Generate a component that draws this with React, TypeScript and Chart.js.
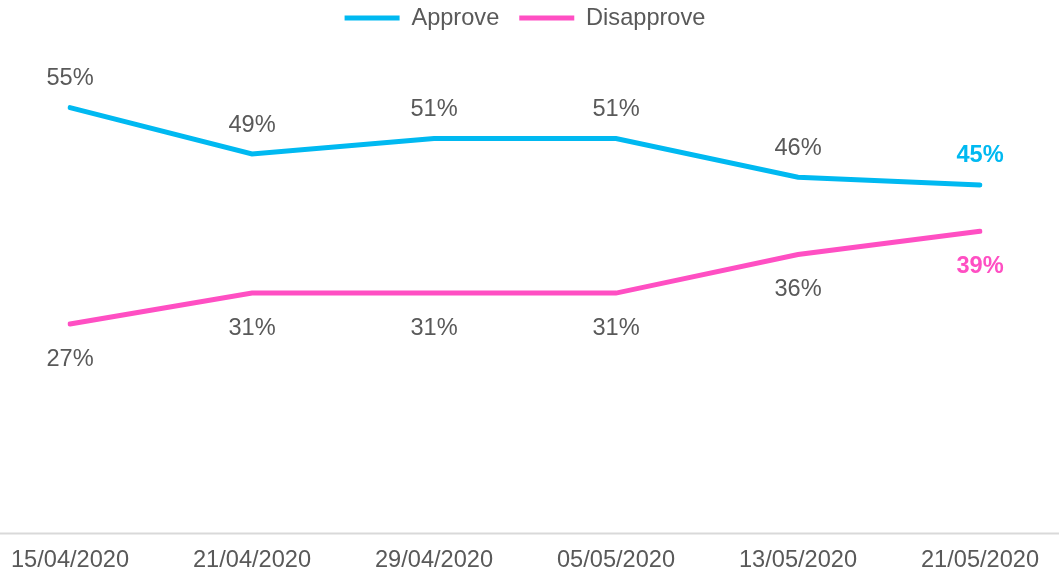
import React, { useEffect, useRef } from "react";
import { Chart, registerables } from "chart.js";

Chart.register(...registerables);

const categories = ["15/04/2020", "21/04/2020", "29/04/2020", "05/05/2020", "13/05/2020", "21/05/2020"];
const approve = [55, 49, 51, 51, 46, 45];
const disapprove = [27, 31, 31, 31, 36, 39];

const BLUE = "#00B9F1";
const PINK = "#FF4FC3";
const GRAY = "#595959";
const FONT = "'Liberation Sans', Arial, sans-serif";
const FS = 23.6;

const labelsPlugin = {
  id: "valueLabels",
  afterDatasetsDraw(chart: any) {
    const ctx = chart.ctx;
    ctx.save();
    ctx.textAlign = "center";
    ctx.textBaseline = "middle";
    chart.data.datasets.forEach((ds: any, di: number) => {
      const meta = chart.getDatasetMeta(di);
      meta.data.forEach((pt: any, i: number) => {
        const last = i === ds.data.length - 1;
        ctx.font = `${last ? "bold " : ""}${FS}px ${FONT}`;
        ctx.fillStyle = last ? ds.borderColor : GRAY;
        const dy = di === 0 ? -29 : 35;
        ctx.fillText(ds.data[i] + "%", pt.x, pt.y + dy);
      });
    });
    ctx.restore();
  },
};

const baselinePlugin = {
  id: "baseline",
  afterDraw(chart: any) {
    const ctx = chart.ctx;
    const y = Math.round(chart.scales.y.getPixelForValue(0)) + 0.5;
    ctx.save();
    ctx.strokeStyle = "#D9D9D9";
    ctx.lineWidth = 2;
    ctx.beginPath();
    ctx.moveTo(0, y);
    ctx.lineTo(chart.width, y);
    ctx.stroke();
    ctx.restore();
  },
};

const LEGEND_PAD = 20;
const legendGap = {
  id: "legendGap",
  beforeInit(chart: any) {
    const orig = chart.legend.fit;
    chart.legend.fit = function () {
      orig.bind(this)();
      this.height = 69;
    };
  },
  afterLayout(chart: any) {
    const lg = chart.legend;
    const shift = LEGEND_PAD + FS / 2 - 18;
    lg.top -= shift;
    lg.bottom -= shift;
  },
};

export default function App() {
  const ref = useRef<HTMLCanvasElement | null>(null);
  useEffect(() => {
    if (!ref.current) return;
    const chart = new Chart(ref.current, {
      type: "line",
      data: {
        labels: categories,
        datasets: [
          {
            label: "Approve",
            data: approve,
            borderColor: BLUE,
            backgroundColor: BLUE,
            borderWidth: 5,
            borderCapStyle: "round",
            pointRadius: 0,
            pointStyle: "line",
            tension: 0,
          },
          {
            label: "Disapprove",
            data: disapprove,
            borderColor: PINK,
            backgroundColor: PINK,
            borderWidth: 5,
            borderCapStyle: "round",
            pointRadius: 0,
            pointStyle: "line",
            tension: 0,
          },
        ],
      },
      options: {
        animation: false,
        responsive: false,
        maintainAspectRatio: false,
        layout: { padding: { left: 70, right: 79, top: 0, bottom: -13 } },
        plugins: {
          legend: {
            position: "top",
            labels: {
              usePointStyle: true,
              pointStyle: "line",
              pointStyleWidth: 55,
              boxHeight: 5,
              padding: LEGEND_PAD,
              color: GRAY,
              font: { family: FONT, size: FS },
            },
          },
          tooltip: { enabled: false },
        },
        scales: {
          x: {
            grid: { display: false, drawTicks: false },
            border: { display: false },
            ticks: { color: GRAY, font: { family: FONT, size: FS }, padding: 14, maxRotation: 0, autoSkip: false },
            afterFit: (s: any) => {
              s.paddingLeft = 0;
              s.paddingRight = 0;
            },
          },
          y: {
            display: false,
            min: 0,
            max: 60,
          },
        },
      },
      plugins: [labelsPlugin, baselinePlugin, legendGap],
    });
    return () => chart.destroy();
  }, []);
  return (
    <div style={{ position: "absolute", left: 0, top: 0, width: 1059, height: 576, background: "#fff" }}>
      <canvas ref={ref} width={1059} height={576} style={{ width: 1059, height: 576 }} />
    </div>
  );
}
